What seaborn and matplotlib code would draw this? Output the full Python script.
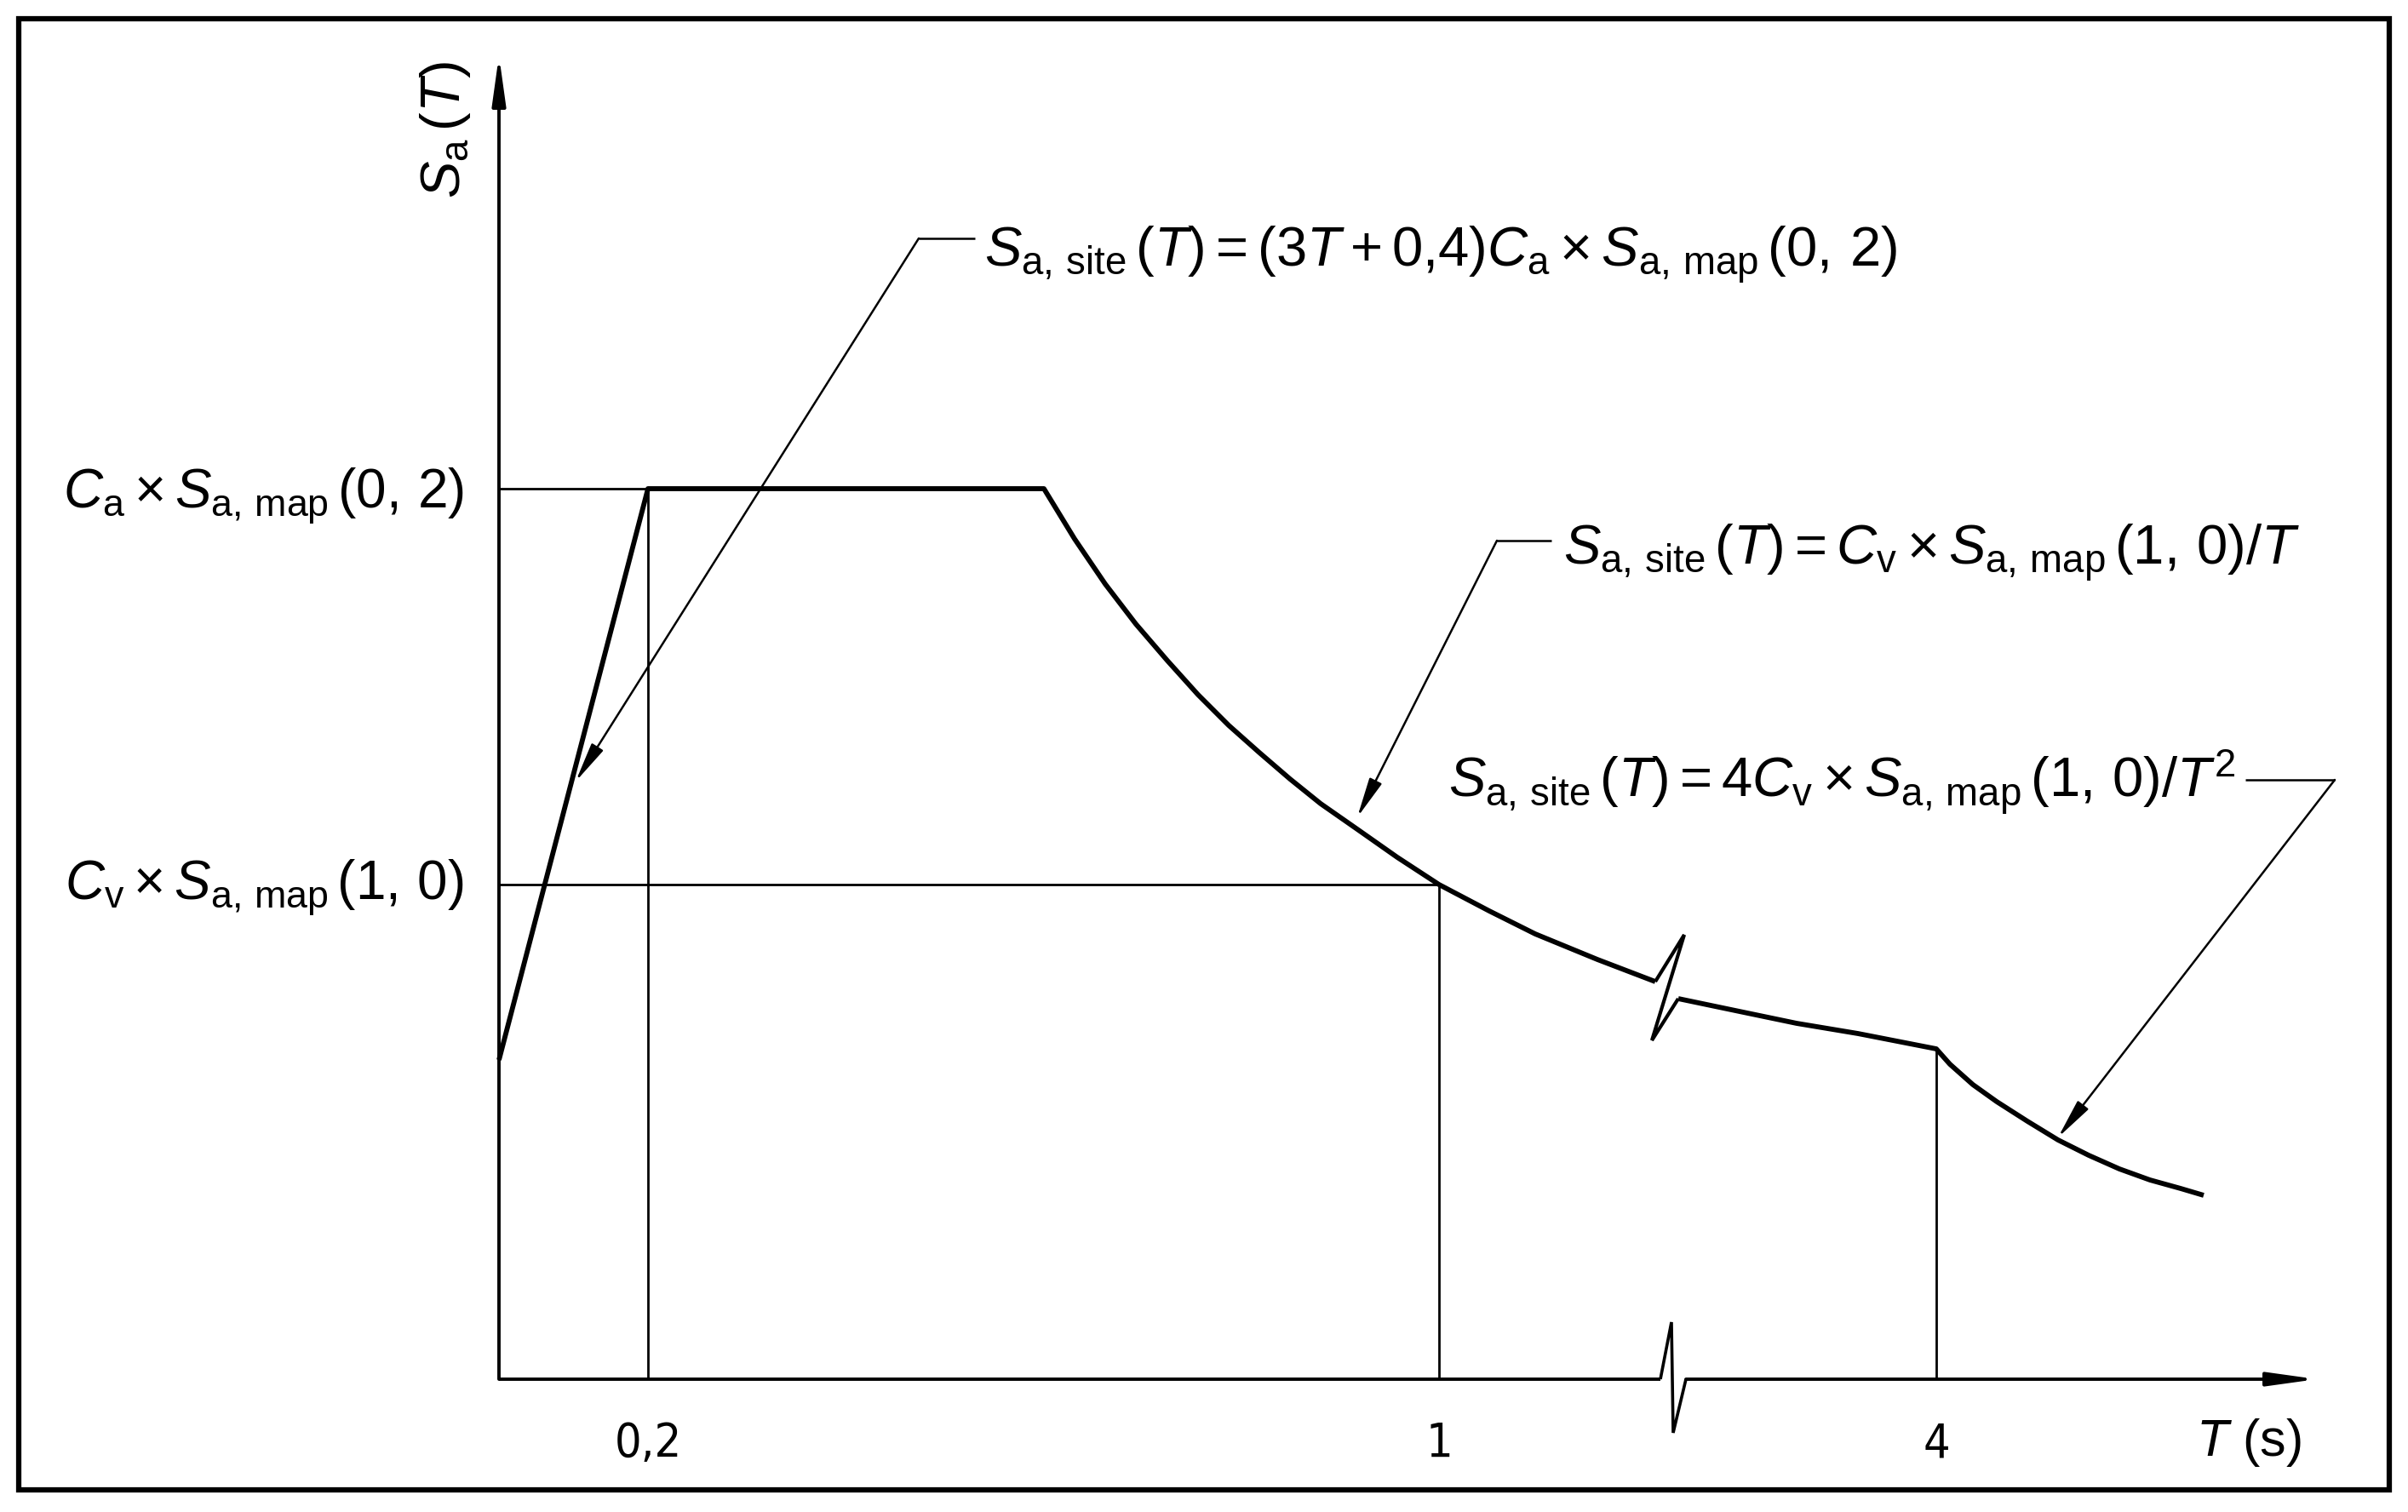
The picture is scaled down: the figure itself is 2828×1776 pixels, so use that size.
import numpy as np
import pandas as pd
import matplotlib
matplotlib.use("Agg")
import matplotlib.pyplot as plt
import seaborn as sns
from matplotlib.patches import Rectangle

# ---------------- data (schematic drawing units, origin at axes corner) -------------
# design response spectrum
rise_x = [0.00, 1.75]
rise_y = [3.75, 10.46]
plateau_x = [1.75, 6.40]
plateau_y = [10.46, 10.46]
decay1_x = [6.40, 6.76, 7.12, 7.48, 7.85, 8.21, 8.57, 8.93, 9.29, 9.65, 10.08,
            10.55, 11.04, 11.63, 12.17, 12.90, 13.58]
decay1_y = [10.46, 9.87, 9.34, 8.87, 8.44, 8.04, 7.68, 7.36, 7.05, 6.76, 6.46,
            6.13, 5.81, 5.50, 5.23, 4.93, 4.67]
curve_break_x = [13.58, 13.92, 13.54, 13.85]
curve_break_y = [4.67, 5.22, 3.98, 4.47]
mid_x = [13.85, 14.52, 15.24, 15.96, 16.88]
mid_y = [4.47, 4.33, 4.18, 4.06, 3.88]
decay2_x = [16.88, 17.04, 17.31, 17.59, 17.95, 18.31, 18.67, 19.03, 19.39, 19.75, 20.02]
decay2_y = [3.88, 3.70, 3.46, 3.26, 3.03, 2.81, 2.63, 2.47, 2.34, 2.24, 2.16]

# axis break on T axis
axis_break_x = [13.64, 13.77, 13.79, 13.94]
axis_break_y = [0.00, 0.67, -0.63, 0.00]

# tick positions / labels on T axis
tick_pos = [1.75, 11.04, 16.88]
tick_labels = ["0,2", "1", "4"]

# reference levels
level_ca = 10.46
level_cv = 5.81
x_end = 21.35
y_end = 15.55

# text
ylabel = r"$S_{\mathrm{a}}\,(T)$"
xlabel = r"$T$ (s)"
label_ca = r"$C_{\mathrm{a}}\times S_{\mathrm{a,\,map}}\,(0,\,2)$"
label_cv = r"$C_{\mathrm{v}}\times S_{\mathrm{a,\,map}}\,(1,\,0)$"
formula_rise = r"$S_{\mathrm{a,\,site}}\,(T) = (3T + 0{,}4)C_{\mathrm{a}}\times S_{\mathrm{a,\,map}}\,(0,\,2)$"
formula_v = r"$S_{\mathrm{a,\,site}}\,(T) = C_{\mathrm{v}}\times S_{\mathrm{a,\,map}}\,(1,\,0)/T$"
formula_v2 = r"$S_{\mathrm{a,\,site}}\,(T) = 4C_{\mathrm{v}}\times S_{\mathrm{a,\,map}}\,(1,\,0)/T^{2}$"

# leader lines: (tip, knee, horizontal end)
lead1 = dict(tip=(0.90, 7.02), knee=(4.93, 13.40), end=(5.59, 13.40))
lead2 = dict(tip=(10.08, 6.60), knee=(11.72, 9.85), end=(12.36, 9.85))
lead3 = dict(tip=(18.31, 2.84), knee=(21.56, 7.04), end=(20.51, 7.04))

# ---------------- style -------------
sns.set_theme(style="white")
plt.rcParams["font.family"] = ["Liberation Sans", "DejaVu Sans"]
plt.rcParams["mathtext.fontset"] = "custom"
plt.rcParams["mathtext.rm"] = "Liberation Sans"
plt.rcParams["mathtext.it"] = "Liberation Sans:italic"
plt.rcParams["mathtext.bf"] = "Liberation Sans:bold"

fig = plt.figure(figsize=(28.28, 17.76), dpi=100)
ax = fig.add_axes([0, 0, 1, 1])
ax.set_xlim(-5.86, 22.42)
ax.set_ylim(-1.56, 16.20)
ax.axis("off")

K = "black"
curve_lw = 4.2
thin_lw = 2.0

def seg(x, y, lw, sort=False, join="round"):
    df = pd.DataFrame({"x": x, "y": y})
    sns.lineplot(data=df, x="x", y="y", ax=ax, color=K, lw=lw, sort=sort,
                 estimator=None, legend=False, solid_joinstyle=join,
                 solid_capstyle="butt")

# reference lines
seg([0, plateau_x[0]], [level_ca, level_ca], thin_lw)
seg([plateau_x[0], plateau_x[0]], [0, level_ca], thin_lw)
seg([0, tick_pos[1]], [level_cv, level_cv], thin_lw)
seg([tick_pos[1], tick_pos[1]], [0, level_cv], thin_lw)
seg([tick_pos[2], tick_pos[2]], [0, mid_y[-1]], thin_lw)

# spectrum curve
seg(rise_x + plateau_x[1:] + decay1_x[1:], rise_y + plateau_y[1:] + decay1_y[1:], curve_lw)
seg(curve_break_x, curve_break_y, 3.0, join="miter")
seg(mid_x + decay2_x[1:], mid_y + decay2_y[1:], curve_lw)

# axes
axis_lw = 2.8
ax.annotate("", xy=(0, y_end), xytext=(0, 0),
            arrowprops=dict(arrowstyle="-|>,head_length=1.15,head_width=0.16",
                            lw=axis_lw, color=K, shrinkA=0, shrinkB=0, mutation_scale=30))
seg([0, axis_break_x[0]], [0, 0], axis_lw)
seg(axis_break_x, axis_break_y, 2.6, join="miter")
ax.annotate("", xy=(x_end, 0), xytext=(axis_break_x[-1], 0),
            arrowprops=dict(arrowstyle="-|>,head_length=1.15,head_width=0.16",
                            lw=axis_lw, color=K, shrinkA=0, shrinkB=0, mutation_scale=30))

# leaders
for L in (lead1, lead2, lead3):
    seg([L["knee"][0], L["end"][0]], [L["knee"][1], L["end"][1]], 1.8)
    ax.annotate("", xy=L["tip"], xytext=L["knee"],
                arrowprops=dict(arrowstyle="-|>,head_length=1.3,head_width=0.22",
                                lw=1.8, color=K, shrinkA=0, shrinkB=0, mutation_scale=22))

# texts
fs = 47
ax.text(-0.63, 14.67, ylabel, rotation=90, ha="center", va="center", fontsize=fs, color=K)
ax.text(-0.41, 10.23, label_ca, ha="right", va="baseline", fontsize=46, color=K)
ax.text(-0.41, 5.63, label_cv, ha="right", va="baseline", fontsize=46, color=K)
ax.text(5.70, 13.06, formula_rise, ha="left", va="baseline", fontsize=fs, color=K)
ax.text(12.50, 9.56, formula_v, ha="left", va="baseline", fontsize=fs, color=K)
ax.text(20.40, 6.82, formula_v2, ha="right", va="baseline", fontsize=fs, color=K)

for p, lab in zip(tick_pos, tick_labels):
    ax.text(p, -0.76, lab, ha="center", va="center", fontsize=40, color=K,
            family="DejaVu Sans", fontstretch="condensed")
ax.text(20.55, -0.74, xlabel, ha="center", va="center", fontsize=44, color=K)

# frame
fig.patches.append(Rectangle((22 / 2828, 26 / 1776), (2806 - 22) / 2828, (1750 - 22) / 1776,
                             transform=fig.transFigure, fill=False, ec=K, lw=4.5))

fig.savefig("out.png", dpi=100)
